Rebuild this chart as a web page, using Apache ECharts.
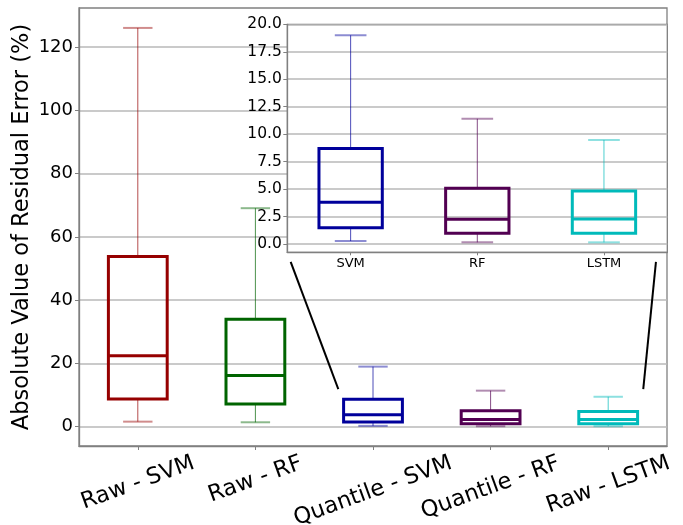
<!DOCTYPE html>
<html><head><meta charset="utf-8">
<script src="https://cdn.jsdelivr.net/npm/echarts@6/dist/echarts.min.js"></script>
<style>html,body{margin:0;padding:0;background:#fff}#c{width:683px;height:525px}</style>
</head><body><div id="c"></div><script>
// ---- data ----
const categories = ['Raw - SVM', 'Raw - RF', 'Quantile - SVM', 'Quantile - RF', 'Raw - LSTM'];
const whiskerLow  = [1.6, 1.4, 0.27, 0.15, 0.15];
const q1          = [8.8, 7.2, 1.48, 0.97, 0.97];
const median      = [22.4, 16.2, 3.8, 2.25, 2.28];
const q3          = [53.8, 34.0, 8.7, 5.07, 4.83];
const whiskerHigh = [126.1, 69.1, 19.0, 11.4, 9.47];
const insetCategories = ['SVM', 'RF', 'LSTM'];
const insetSource = [2, 3, 4];
const mainTicks = [0, 20, 40, 60, 80, 100, 120];
const insetTicks = [0, 2.5, 5, 7.5, 10, 12.5, 15, 17.5, 20];
const zoomLinkLeft  = [[1.30, 52.1], [1.705, 11.9]];
const zoomLinkRight = [[4.406, 52.1], [4.298, 11.9]];
const colors = ['#960000', '#006400', '#00009b', '#520052', '#00baba'];
const FONT = 'DejaVu Sans';

function rgba(hex, a) {
  const n = parseInt(hex.slice(1), 16);
  return 'rgba(' + ((n >> 16) & 255) + ',' + ((n >> 8) & 255) + ',' + (n & 255) + ',' + a + ')';
}

function renderBox(params, api) {
  const x = api.value(0);
  const lo = api.value(1), a = api.value(2), m = api.value(3), b = api.value(4), hi = api.value(5);
  const col = colors[api.value(6)];
  const bw = api.size([1, 0])[0] * 0.5;
  const pLo = api.coord([x, lo]), pA = api.coord([x, a]), pM = api.coord([x, m]),
        pB = api.coord([x, b]), pHi = api.coord([x, hi]);
  const cx = pLo[0];
  const wStyle = { stroke: rgba(col, 0.7), lineWidth: 1 };
  const cStyle = { stroke: rgba(col, 0.45), lineWidth: 2 };
  return {
    type: 'group',
    children: [
      { type: 'line', shape: { x1: cx, y1: pB[1], x2: cx, y2: pHi[1] }, style: wStyle },
      { type: 'line', shape: { x1: cx, y1: pA[1], x2: cx, y2: pLo[1] }, style: wStyle },
      { type: 'line', shape: { x1: cx - bw / 4, y1: pHi[1], x2: cx + bw / 4, y2: pHi[1] }, style: cStyle },
      { type: 'line', shape: { x1: cx - bw / 4, y1: pLo[1], x2: cx + bw / 4, y2: pLo[1] }, style: cStyle },
      { type: 'rect', shape: { x: cx - bw / 2, y: pB[1], width: bw, height: pA[1] - pB[1] },
        style: { fill: 'rgba(0,0,0,0)', stroke: col, lineWidth: 3 } },
      { type: 'line', shape: { x1: cx - bw / 2, y1: pM[1], x2: cx + bw / 2, y2: pM[1] },
        style: { stroke: col, lineWidth: 3 } }
    ]
  };
}

const mainData = categories.map((c, i) => [i, whiskerLow[i], q1[i], median[i], q3[i], whiskerHigh[i], i]);
const insetData = insetSource.map((s, j) => [j, whiskerLow[s], q1[s], median[s], q3[s], whiskerHigh[s], s]);

const gray = '#808080';
const chart = echarts.init(document.getElementById('c'), null, { renderer: 'canvas' });
chart.setOption({
  animation: false,
  backgroundColor: '#fff',
  textStyle: { fontFamily: FONT },
  grid: [
    { left: 79, right: 16, top: 8, bottom: 79, show: true, borderColor: gray, borderWidth: 1.3,
      containLabel: false, outerBoundsMode: 'none' },
    { left: 287.3, right: 15.7, top: 24.3, bottom: 272.7, show: true, backgroundColor: '#fff',
      borderColor: gray, borderWidth: 1.3, z: 5, containLabel: false, outerBoundsMode: 'none' }
  ],
  xAxis: [
    { gridIndex: 0, type: 'category', data: categories, boundaryGap: true,
      axisLine: { show: true, onZero: false, lineStyle: { color: gray, width: 1.3 } },
      axisTick: { show: true, alignWithLabel: true, length: 4, lineStyle: { color: gray } },
      axisLabel: { show: false }, splitLine: { show: false } },
    { gridIndex: 1, type: 'category', data: insetCategories, boundaryGap: true, z: 6,
      axisLine: { show: true, onZero: false, lineStyle: { color: gray, width: 1.3 } },
      axisTick: { show: true, alignWithLabel: true, length: 3, lineStyle: { color: gray } },
      axisLabel: { fontSize: 13, color: '#000', margin: 5, fontFamily: FONT },
      splitLine: { show: false } },
    { gridIndex: 0, type: 'value', min: -0.5, max: 4.5, show: false,
      axisLine: { onZero: false } }
  ],
  yAxis: [
    { gridIndex: 0, type: 'value', min: -6.1, max: 132.4, position: 'left',
      name: 'Absolute Value of Residual Error (%)', nameLocation: 'middle', nameGap: 45,
      nameMoveOverlap: false,
      nameTextStyle: { fontSize: 22.5, color: '#000', fontFamily: FONT },
      axisLine: { show: true, onZero: false, lineStyle: { color: gray, width: 1.3 } },
      axisTick: { show: true, length: 4, customValues: mainTicks, lineStyle: { color: gray } },
      axisLabel: { customValues: mainTicks, fontSize: 18, color: '#000', margin: 6, fontFamily: FONT },
      splitLine: { show: true, lineStyle: { color: '#b8b8b8', width: 1.5 } } },
    { gridIndex: 1, type: 'value', min: -0.756, max: 20, z: 6, position: 'left',
      axisLine: { show: true, onZero: false, lineStyle: { color: gray, width: 1.3 } },
      axisTick: { show: true, length: 4, customValues: insetTicks, lineStyle: { color: gray } },
      axisLabel: { customValues: insetTicks, fontSize: 15.5, color: '#000', margin: 5.5, fontFamily: FONT,
        formatter: v => Number(v).toFixed(1) },
      splitLine: { show: true, lineStyle: { color: '#b8b8b8', width: 1.5 } } }
  ],
  series: [
    { type: 'custom', xAxisIndex: 0, yAxisIndex: 0, renderItem: renderBox, data: mainData, z: 2,
      encode: { x: 0, y: [1, 5] }, silent: true },
    { type: 'custom', xAxisIndex: 1, yAxisIndex: 1, renderItem: renderBox, data: insetData, z: 7,
      encode: { x: 0, y: [1, 5] }, silent: true },
    { type: 'line', xAxisIndex: 2, yAxisIndex: 0, data: zoomLinkLeft, symbol: 'none', silent: true, z: 3,
      lineStyle: { color: '#000', width: 2 } },
    { type: 'line', xAxisIndex: 2, yAxisIndex: 0, data: zoomLinkRight, symbol: 'none', silent: true, z: 3,
      lineStyle: { color: '#000', width: 2 } }
  ]
});

// rotated x labels (matplotlib-style: rotated bbox centred on tick, top at a fixed pad)
const ctx = document.createElement('canvas').getContext('2d');
const labelSize = 22.5;
ctx.font = labelSize + 'px "' + FONT + '"';
const axisY = chart.convertToPixel({ yAxisIndex: 0 }, -6.1);
const ang = 20 * Math.PI / 180;
const graphics = categories.map((c, i) => {
  const px = chart.convertToPixel({ xAxisIndex: 0 }, c);
  const w = ctx.measureText(c).width;
  const cy = axisY + 9 + (w * Math.sin(ang) + 0.73 * labelSize * Math.cos(ang)) / 2;
  return { type: 'text', x: px, y: cy, rotation: ang, z: 10,
    style: { text: c, font: labelSize + 'px "' + FONT + '"', fill: '#000',
      align: 'center', verticalAlign: 'middle' } };
});
chart.setOption({ graphic: graphics });
</script></body></html>
